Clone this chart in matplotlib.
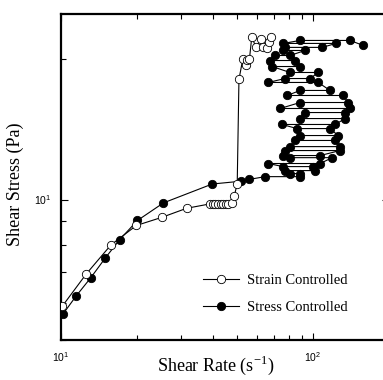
import matplotlib
matplotlib.use("Agg")
import matplotlib.pyplot as plt
from matplotlib.ticker import NullFormatter

# Strain controlled (open circles)
strain_rate = [10.1, 12.6, 15.8, 19.9, 25.1, 31.5, 39.0, 40.0, 41.0, 42.0, 43.0, 44.0, 45.0,
               46.1, 47.6, 48.6, 50.0, 50.8, 52.6, 54.2, 54.6, 55.9, 57.1, 59.4, 62.2, 63.5,
               65.5, 67.1, 68.1]
strain_stress = [5.9, 6.93, 8.0, 8.8, 9.16, 9.58, 9.79, 9.79, 9.79, 9.79, 9.79, 9.8, 9.8,
                 9.79, 9.84, 10.16, 10.8, 18.1, 20.0, 19.4, 19.9, 20.0, 22.3, 21.2, 22.1, 21.2,
                 21.1, 21.8, 22.3]

# Stress controlled (filled circles)
stress_rate = [10.2, 11.5, 13.1, 15.0, 17.1, 20.1, 25.5, 39.8, 51.8, 55.9, 64.5,
               88.8, 88.8, 81.0, 77.4, 101.8, 100.0, 76.0, 66.3, 106.6, 119.0, 81.0, 76.0,
               106.6, 128.0, 77.4, 81.0, 128.0, 122.3, 84.8, 88.8, 125.7, 116.8, 86.4, 75.3,
               122.3, 134.0, 88.8, 92.9, 134.0, 140.2, 74.0, 88.8, 137.7, 131.5, 78.9, 88.8,
               116.8, 104.7, 66.3, 77.4, 97.3, 104.7, 81.0, 68.8, 88.8, 84.8, 67.5, 70.7,
               81.0, 92.9, 76.0, 77.4, 108.6, 123.4, 76.0, 88.8, 140.2, 157.8]
stress_stress = [5.69, 6.22, 6.79, 7.50, 8.21, 9.02, 9.84, 10.8, 10.95, 11.05, 11.2,
                 11.2, 11.37, 11.37, 11.54, 11.54, 11.77, 11.77, 11.95, 11.95, 12.30, 12.30, 12.43,
                 12.43, 12.74, 12.74, 12.99, 12.99, 13.39, 13.39, 13.72, 13.72, 14.20, 14.20, 14.49,
                 14.49, 14.92, 14.92, 15.37, 15.37, 15.68, 15.68, 16.15, 16.15, 16.72, 16.72, 17.14,
                 17.14, 17.83, 17.83, 18.18, 18.18, 18.73, 18.73, 19.29, 19.29, 19.87, 19.87, 20.37,
                 20.37, 20.88, 20.88, 21.20, 21.20, 21.62, 21.62, 21.94, 21.94, 21.41]

labels = ["Strain Controlled", "Stress Controlled"]
xlabel = "Shear Rate (s$^{\\mathregular{-1}}$)"
ylabel = "Shear Stress (Pa)"

plt.rcParams['font.family'] = ['Liberation Sans', 'DejaVu Sans']
plt.rcParams['mathtext.fontset'] = 'custom'
plt.rcParams['mathtext.rm'] = 'Liberation Serif'

fig = plt.figure(figsize=(3.83, 3.80), dpi=100)
ax = fig.add_axes([61/383, 40/380, 328/383, 326/380])

ax.plot(stress_rate, stress_stress, '-', color='black', lw=0.8, marker='o', ms=6,
        mfc='black', mec='black', mew=0.6, label=labels[1], zorder=2)
ax.plot(strain_rate, strain_stress, '-', color='black', lw=0.8, marker='o', ms=6,
        mfc='white', mec='black', mew=0.6, label=labels[0], zorder=3)

ax.set_xscale('log')
ax.set_yscale('log')
ax.set_xlim(10, 200)
ax.set_ylim(5, 25)
ax.xaxis.set_minor_formatter(NullFormatter())
ax.yaxis.set_minor_formatter(NullFormatter())

for s in ax.spines.values():
    s.set_linewidth(1.6)

ax.tick_params(which='both', direction='in', top=True, right=True, width=0.8)
ax.tick_params(which='major', length=5, labelsize=7.5, pad=7)
ax.tick_params(which='minor', length=3.5)

ax.set_xlabel(xlabel, fontsize=13, family='Liberation Serif')
ax.set_ylabel(ylabel, fontsize=13, family='Liberation Serif')
ax.xaxis.set_label_coords(0.473, -0.077)
ax.yaxis.set_label_coords(-0.14, 0.479)
ax.xaxis.label.set_va('center')
ax.yaxis.label.set_va('center')

h, l = ax.get_legend_handles_labels()
leg = fig.legend([h[1], h[0]], [l[1], l[0]], loc='lower left',
                 bbox_to_anchor=(203/383, 66/380), frameon=False, borderpad=0,
                 borderaxespad=0, handlelength=2.5, handletextpad=0.5, labelspacing=0.95,
                 prop={'family': 'Liberation Serif', 'size': 10.5})

fig.savefig('out.png', dpi=100)
